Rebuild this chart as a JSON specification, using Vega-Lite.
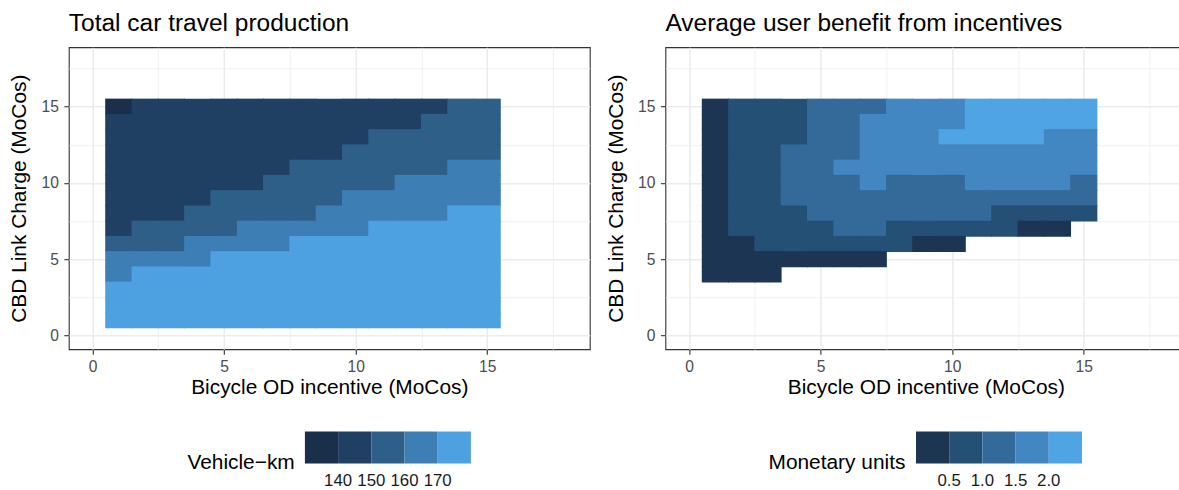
{
  "$schema": "https://vega.github.io/schema/vega-lite/v6.json",
  "padding": {"left": 7.8, "top": 9.2, "right": 0, "bottom": 0},
  "background": "white",
  "config": {
    "font": "Liberation Sans",
    "view": {"stroke": "#333333", "strokeWidth": 1.1},
    "axis": {
      "domain": false,
      "labelFont": "Liberation Sans",
      "labelFontSize": 15.6,
      "labelColor": "#4d4d4d",
      "tickColor": "#333333",
      "tickSize": 5,
      "tickWidth": 1.1,
      "labelPadding": 5,
      "titleFont": "Liberation Sans",
      "titleFontSize": 20.9,
      "titleFontWeight": "normal",
      "titleColor": "#000000",
      "titlePadding": 2,
      "gridColor": "#ebebeb"
    },
    "axisY": {"titlePadding": 11, "labelPadding": 5.5},
    "legend": {
      "type": "gradient",
      "direction": "horizontal",
      "orient": "none",
      "padding": 0,
      "gradientLength": 166,
      "gradientThickness": 32,
      "gradientStrokeWidth": 0,
      "titleOrient": "left",
      "titleAnchor": "end",
      "titleBaseline": "middle",
      "titlePadding": 9.5,
      "titleFont": "Liberation Sans",
      "titleFontSize": 20.9,
      "titleFontWeight": "normal",
      "titleColor": "#000000",
      "labelFont": "Liberation Sans",
      "labelFontSize": 16.8,
      "labelColor": "#1a1a1a"
    }
  },
  "datasets": {
    "L": [
      {"x":1,"y":15,"v":135},{"x":2,"y":15,"v":145},{"x":3,"y":15,"v":145},{"x":4,"y":15,"v":145},{"x":5,"y":15,"v":145},{"x":6,"y":15,"v":145},{"x":7,"y":15,"v":145},{"x":8,"y":15,"v":145},{"x":9,"y":15,"v":145},{"x":10,"y":15,"v":145},{"x":11,"y":15,"v":145},{"x":12,"y":15,"v":145},{"x":13,"y":15,"v":145},{"x":14,"y":15,"v":155},{"x":15,"y":15,"v":155},
      {"x":1,"y":14,"v":145},{"x":2,"y":14,"v":145},{"x":3,"y":14,"v":145},{"x":4,"y":14,"v":145},{"x":5,"y":14,"v":145},{"x":6,"y":14,"v":145},{"x":7,"y":14,"v":145},{"x":8,"y":14,"v":145},{"x":9,"y":14,"v":145},{"x":10,"y":14,"v":145},{"x":11,"y":14,"v":145},{"x":12,"y":14,"v":145},{"x":13,"y":14,"v":155},{"x":14,"y":14,"v":155},{"x":15,"y":14,"v":155},
      {"x":1,"y":13,"v":145},{"x":2,"y":13,"v":145},{"x":3,"y":13,"v":145},{"x":4,"y":13,"v":145},{"x":5,"y":13,"v":145},{"x":6,"y":13,"v":145},{"x":7,"y":13,"v":145},{"x":8,"y":13,"v":145},{"x":9,"y":13,"v":145},{"x":10,"y":13,"v":145},{"x":11,"y":13,"v":155},{"x":12,"y":13,"v":155},{"x":13,"y":13,"v":155},{"x":14,"y":13,"v":155},{"x":15,"y":13,"v":155},
      {"x":1,"y":12,"v":145},{"x":2,"y":12,"v":145},{"x":3,"y":12,"v":145},{"x":4,"y":12,"v":145},{"x":5,"y":12,"v":145},{"x":6,"y":12,"v":145},{"x":7,"y":12,"v":145},{"x":8,"y":12,"v":145},{"x":9,"y":12,"v":145},{"x":10,"y":12,"v":155},{"x":11,"y":12,"v":155},{"x":12,"y":12,"v":155},{"x":13,"y":12,"v":155},{"x":14,"y":12,"v":155},{"x":15,"y":12,"v":155},
      {"x":1,"y":11,"v":145},{"x":2,"y":11,"v":145},{"x":3,"y":11,"v":145},{"x":4,"y":11,"v":145},{"x":5,"y":11,"v":145},{"x":6,"y":11,"v":145},{"x":7,"y":11,"v":145},{"x":8,"y":11,"v":155},{"x":9,"y":11,"v":155},{"x":10,"y":11,"v":155},{"x":11,"y":11,"v":155},{"x":12,"y":11,"v":155},{"x":13,"y":11,"v":155},{"x":14,"y":11,"v":165},{"x":15,"y":11,"v":165},
      {"x":1,"y":10,"v":145},{"x":2,"y":10,"v":145},{"x":3,"y":10,"v":145},{"x":4,"y":10,"v":145},{"x":5,"y":10,"v":145},{"x":6,"y":10,"v":145},{"x":7,"y":10,"v":155},{"x":8,"y":10,"v":155},{"x":9,"y":10,"v":155},{"x":10,"y":10,"v":155},{"x":11,"y":10,"v":155},{"x":12,"y":10,"v":165},{"x":13,"y":10,"v":165},{"x":14,"y":10,"v":165},{"x":15,"y":10,"v":165},
      {"x":1,"y":9,"v":145},{"x":2,"y":9,"v":145},{"x":3,"y":9,"v":145},{"x":4,"y":9,"v":145},{"x":5,"y":9,"v":155},{"x":6,"y":9,"v":155},{"x":7,"y":9,"v":155},{"x":8,"y":9,"v":155},{"x":9,"y":9,"v":155},{"x":10,"y":9,"v":165},{"x":11,"y":9,"v":165},{"x":12,"y":9,"v":165},{"x":13,"y":9,"v":165},{"x":14,"y":9,"v":165},{"x":15,"y":9,"v":165},
      {"x":1,"y":8,"v":145},{"x":2,"y":8,"v":145},{"x":3,"y":8,"v":145},{"x":4,"y":8,"v":155},{"x":5,"y":8,"v":155},{"x":6,"y":8,"v":155},{"x":7,"y":8,"v":155},{"x":8,"y":8,"v":155},{"x":9,"y":8,"v":165},{"x":10,"y":8,"v":165},{"x":11,"y":8,"v":165},{"x":12,"y":8,"v":165},{"x":13,"y":8,"v":165},{"x":14,"y":8,"v":175},{"x":15,"y":8,"v":175},
      {"x":1,"y":7,"v":145},{"x":2,"y":7,"v":155},{"x":3,"y":7,"v":155},{"x":4,"y":7,"v":155},{"x":5,"y":7,"v":155},{"x":6,"y":7,"v":165},{"x":7,"y":7,"v":165},{"x":8,"y":7,"v":165},{"x":9,"y":7,"v":165},{"x":10,"y":7,"v":165},{"x":11,"y":7,"v":175},{"x":12,"y":7,"v":175},{"x":13,"y":7,"v":175},{"x":14,"y":7,"v":175},{"x":15,"y":7,"v":175},
      {"x":1,"y":6,"v":155},{"x":2,"y":6,"v":155},{"x":3,"y":6,"v":155},{"x":4,"y":6,"v":165},{"x":5,"y":6,"v":165},{"x":6,"y":6,"v":165},{"x":7,"y":6,"v":165},{"x":8,"y":6,"v":175},{"x":9,"y":6,"v":175},{"x":10,"y":6,"v":175},{"x":11,"y":6,"v":175},{"x":12,"y":6,"v":175},{"x":13,"y":6,"v":175},{"x":14,"y":6,"v":175},{"x":15,"y":6,"v":175},
      {"x":1,"y":5,"v":165},{"x":2,"y":5,"v":165},{"x":3,"y":5,"v":165},{"x":4,"y":5,"v":165},{"x":5,"y":5,"v":175},{"x":6,"y":5,"v":175},{"x":7,"y":5,"v":175},{"x":8,"y":5,"v":175},{"x":9,"y":5,"v":175},{"x":10,"y":5,"v":175},{"x":11,"y":5,"v":175},{"x":12,"y":5,"v":175},{"x":13,"y":5,"v":175},{"x":14,"y":5,"v":175},{"x":15,"y":5,"v":175},
      {"x":1,"y":4,"v":165},{"x":2,"y":4,"v":175},{"x":3,"y":4,"v":175},{"x":4,"y":4,"v":175},{"x":5,"y":4,"v":175},{"x":6,"y":4,"v":175},{"x":7,"y":4,"v":175},{"x":8,"y":4,"v":175},{"x":9,"y":4,"v":175},{"x":10,"y":4,"v":175},{"x":11,"y":4,"v":175},{"x":12,"y":4,"v":175},{"x":13,"y":4,"v":175},{"x":14,"y":4,"v":175},{"x":15,"y":4,"v":175},
      {"x":1,"y":3,"v":175},{"x":2,"y":3,"v":175},{"x":3,"y":3,"v":175},{"x":4,"y":3,"v":175},{"x":5,"y":3,"v":175},{"x":6,"y":3,"v":175},{"x":7,"y":3,"v":175},{"x":8,"y":3,"v":175},{"x":9,"y":3,"v":175},{"x":10,"y":3,"v":175},{"x":11,"y":3,"v":175},{"x":12,"y":3,"v":175},{"x":13,"y":3,"v":175},{"x":14,"y":3,"v":175},{"x":15,"y":3,"v":175},
      {"x":1,"y":2,"v":175},{"x":2,"y":2,"v":175},{"x":3,"y":2,"v":175},{"x":4,"y":2,"v":175},{"x":5,"y":2,"v":175},{"x":6,"y":2,"v":175},{"x":7,"y":2,"v":175},{"x":8,"y":2,"v":175},{"x":9,"y":2,"v":175},{"x":10,"y":2,"v":175},{"x":11,"y":2,"v":175},{"x":12,"y":2,"v":175},{"x":13,"y":2,"v":175},{"x":14,"y":2,"v":175},{"x":15,"y":2,"v":175},
      {"x":1,"y":1,"v":175},{"x":2,"y":1,"v":175},{"x":3,"y":1,"v":175},{"x":4,"y":1,"v":175},{"x":5,"y":1,"v":175},{"x":6,"y":1,"v":175},{"x":7,"y":1,"v":175},{"x":8,"y":1,"v":175},{"x":9,"y":1,"v":175},{"x":10,"y":1,"v":175},{"x":11,"y":1,"v":175},{"x":12,"y":1,"v":175},{"x":13,"y":1,"v":175},{"x":14,"y":1,"v":175},{"x":15,"y":1,"v":175}
    ],
    "R": [
      {"x":1,"y":15,"v":0.3},{"x":2,"y":15,"v":0.75},{"x":3,"y":15,"v":0.75},{"x":4,"y":15,"v":0.75},{"x":5,"y":15,"v":1.25},{"x":6,"y":15,"v":1.25},{"x":7,"y":15,"v":1.25},{"x":8,"y":15,"v":1.75},{"x":9,"y":15,"v":1.75},{"x":10,"y":15,"v":1.75},{"x":11,"y":15,"v":2.25},{"x":12,"y":15,"v":2.25},{"x":13,"y":15,"v":2.25},{"x":14,"y":15,"v":2.25},{"x":15,"y":15,"v":2.25},
      {"x":1,"y":14,"v":0.3},{"x":2,"y":14,"v":0.75},{"x":3,"y":14,"v":0.75},{"x":4,"y":14,"v":0.75},{"x":5,"y":14,"v":1.25},{"x":6,"y":14,"v":1.25},{"x":7,"y":14,"v":1.75},{"x":8,"y":14,"v":1.75},{"x":9,"y":14,"v":1.75},{"x":10,"y":14,"v":1.75},{"x":11,"y":14,"v":2.25},{"x":12,"y":14,"v":2.25},{"x":13,"y":14,"v":2.25},{"x":14,"y":14,"v":2.25},{"x":15,"y":14,"v":2.25},
      {"x":1,"y":13,"v":0.3},{"x":2,"y":13,"v":0.75},{"x":3,"y":13,"v":0.75},{"x":4,"y":13,"v":0.75},{"x":5,"y":13,"v":1.25},{"x":6,"y":13,"v":1.25},{"x":7,"y":13,"v":1.75},{"x":8,"y":13,"v":1.75},{"x":9,"y":13,"v":1.75},{"x":10,"y":13,"v":2.25},{"x":11,"y":13,"v":2.25},{"x":12,"y":13,"v":2.25},{"x":13,"y":13,"v":2.25},{"x":14,"y":13,"v":1.75},{"x":15,"y":13,"v":1.75},
      {"x":1,"y":12,"v":0.3},{"x":2,"y":12,"v":0.75},{"x":3,"y":12,"v":0.75},{"x":4,"y":12,"v":1.25},{"x":5,"y":12,"v":1.25},{"x":6,"y":12,"v":1.25},{"x":7,"y":12,"v":1.75},{"x":8,"y":12,"v":1.75},{"x":9,"y":12,"v":1.75},{"x":10,"y":12,"v":1.75},{"x":11,"y":12,"v":1.75},{"x":12,"y":12,"v":1.75},{"x":13,"y":12,"v":1.75},{"x":14,"y":12,"v":1.75},{"x":15,"y":12,"v":1.75},
      {"x":1,"y":11,"v":0.3},{"x":2,"y":11,"v":0.75},{"x":3,"y":11,"v":0.75},{"x":4,"y":11,"v":1.25},{"x":5,"y":11,"v":1.25},{"x":6,"y":11,"v":1.75},{"x":7,"y":11,"v":1.75},{"x":8,"y":11,"v":1.75},{"x":9,"y":11,"v":1.75},{"x":10,"y":11,"v":1.75},{"x":11,"y":11,"v":1.75},{"x":12,"y":11,"v":1.75},{"x":13,"y":11,"v":1.75},{"x":14,"y":11,"v":1.75},{"x":15,"y":11,"v":1.75},
      {"x":1,"y":10,"v":0.3},{"x":2,"y":10,"v":0.75},{"x":3,"y":10,"v":0.75},{"x":4,"y":10,"v":1.25},{"x":5,"y":10,"v":1.25},{"x":6,"y":10,"v":1.25},{"x":7,"y":10,"v":1.75},{"x":8,"y":10,"v":1.25},{"x":9,"y":10,"v":1.25},{"x":10,"y":10,"v":1.25},{"x":11,"y":10,"v":1.75},{"x":12,"y":10,"v":1.75},{"x":13,"y":10,"v":1.75},{"x":14,"y":10,"v":1.75},{"x":15,"y":10,"v":1.25},
      {"x":1,"y":9,"v":0.3},{"x":2,"y":9,"v":0.75},{"x":3,"y":9,"v":0.75},{"x":4,"y":9,"v":1.25},{"x":5,"y":9,"v":1.25},{"x":6,"y":9,"v":1.25},{"x":7,"y":9,"v":1.25},{"x":8,"y":9,"v":1.25},{"x":9,"y":9,"v":1.25},{"x":10,"y":9,"v":1.25},{"x":11,"y":9,"v":1.25},{"x":12,"y":9,"v":1.25},{"x":13,"y":9,"v":1.25},{"x":14,"y":9,"v":1.25},{"x":15,"y":9,"v":1.25},
      {"x":1,"y":8,"v":0.3},{"x":2,"y":8,"v":0.75},{"x":3,"y":8,"v":0.75},{"x":4,"y":8,"v":0.75},{"x":5,"y":8,"v":1.25},{"x":6,"y":8,"v":1.25},{"x":7,"y":8,"v":1.25},{"x":8,"y":8,"v":1.25},{"x":9,"y":8,"v":1.25},{"x":10,"y":8,"v":1.25},{"x":11,"y":8,"v":1.25},{"x":12,"y":8,"v":0.75},{"x":13,"y":8,"v":0.75},{"x":14,"y":8,"v":0.75},{"x":15,"y":8,"v":0.75},
      {"x":1,"y":7,"v":0.3},{"x":2,"y":7,"v":0.75},{"x":3,"y":7,"v":0.75},{"x":4,"y":7,"v":0.75},{"x":5,"y":7,"v":0.75},{"x":6,"y":7,"v":1.25},{"x":7,"y":7,"v":1.25},{"x":8,"y":7,"v":0.75},{"x":9,"y":7,"v":0.75},{"x":10,"y":7,"v":0.75},{"x":11,"y":7,"v":0.75},{"x":12,"y":7,"v":0.75},{"x":13,"y":7,"v":0.3},{"x":14,"y":7,"v":0.3},
      {"x":1,"y":6,"v":0.3},{"x":2,"y":6,"v":0.3},{"x":3,"y":6,"v":0.75},{"x":4,"y":6,"v":0.75},{"x":5,"y":6,"v":0.75},{"x":6,"y":6,"v":0.75},{"x":7,"y":6,"v":0.75},{"x":8,"y":6,"v":0.75},{"x":9,"y":6,"v":0.3},{"x":10,"y":6,"v":0.3},
      {"x":1,"y":5,"v":0.3},{"x":2,"y":5,"v":0.3},{"x":3,"y":5,"v":0.3},{"x":4,"y":5,"v":0.3},{"x":5,"y":5,"v":0.3},{"x":6,"y":5,"v":0.3},{"x":7,"y":5,"v":0.3},
      {"x":1,"y":4,"v":0.3},{"x":2,"y":4,"v":0.3},{"x":3,"y":4,"v":0.3}
    ]
  },
  "spacing": 13.6,
  "resolve": {"scale": {"color": "independent"}, "legend": {"color": "independent"}},
  "hconcat": [
    {
      "width": 521,
      "height": 302,
      "title": {"text": "Total car travel production", "anchor": "start", "frame": "group", "font": "Liberation Sans", "fontSize": 24.5, "fontWeight": "normal", "color": "#000000", "offset": 11},
      "data": {"name": "L"},
      "mark": {"type": "rect", "width": 27.2, "height": 16.1, "opacity": 1},
      "encoding": {
        "x": {
          "field": "x", "type": "quantitative",
          "scale": {"domain": [-0.9, 18.9], "nice": false, "zero": false},
          "axis": {
            "title": "Bicycle OD incentive (MoCos)",
            "values": [0, 2.5, 5, 7.5, 10, 12.5, 15, 17.5],
            "labelExpr": "datum.value % 5 === 0 ? datum.label : ''",
            "tickOpacity": {"condition": {"test": "datum.value % 5 === 0", "value": 1}, "value": 0},
            "gridWidth": {"condition": {"test": "datum.value % 5 === 0", "value": 1.5}, "value": 0.75}
          }
        },
        "y": {
          "field": "y", "type": "quantitative",
          "scale": {"domain": [-0.9, 18.9], "nice": false, "zero": false},
          "axis": {
            "title": "CBD Link Charge (MoCos)",
            "values": [0, 2.5, 5, 7.5, 10, 12.5, 15, 17.5],
            "labelExpr": "datum.value % 5 === 0 ? datum.label : ''",
            "tickOpacity": {"condition": {"test": "datum.value % 5 === 0", "value": 1}, "value": 0},
            "gridWidth": {"condition": {"test": "datum.value % 5 === 0", "value": 1.5}, "value": 0.75}
          }
        },
        "color": {
          "field": "v", "type": "quantitative",
          "scale": {"type": "threshold", "domain": [140, 150, 160, 170], "range": ["#192f4a", "#1f4063", "#2e5f88", "#3d7eb5", "#4da1e0"]},
          "legend": {"title": "Vehicle−km", "legendX": 118.6, "legendY": 384.3, "labelOffset": 9.8}
        }
      }
    },
    {
      "width": 521,
      "height": 302,
      "title": {"text": "Average user benefit from incentives", "anchor": "start", "frame": "group", "font": "Liberation Sans", "fontSize": 24.5, "fontWeight": "normal", "color": "#000000", "offset": 11},
      "data": {"name": "R"},
      "mark": {"type": "rect", "width": 27.2, "height": 16.1, "opacity": 1},
      "encoding": {
        "x": {
          "field": "x", "type": "quantitative",
          "scale": {"domain": [-0.9, 18.9], "nice": false, "zero": false},
          "axis": {
            "title": "Bicycle OD incentive (MoCos)",
            "values": [0, 2.5, 5, 7.5, 10, 12.5, 15, 17.5],
            "labelExpr": "datum.value % 5 === 0 ? datum.label : ''",
            "tickOpacity": {"condition": {"test": "datum.value % 5 === 0", "value": 1}, "value": 0},
            "gridWidth": {"condition": {"test": "datum.value % 5 === 0", "value": 1.5}, "value": 0.75}
          }
        },
        "y": {
          "field": "y", "type": "quantitative",
          "scale": {"domain": [-0.9, 18.9], "nice": false, "zero": false},
          "axis": {
            "title": "CBD Link Charge (MoCos)",
            "values": [0, 2.5, 5, 7.5, 10, 12.5, 15, 17.5],
            "labelExpr": "datum.value % 5 === 0 ? datum.label : ''",
            "tickOpacity": {"condition": {"test": "datum.value % 5 === 0", "value": 1}, "value": 0},
            "gridWidth": {"condition": {"test": "datum.value % 5 === 0", "value": 1.5}, "value": 0.75}
          }
        },
        "color": {
          "field": "v", "type": "quantitative",
          "scale": {"type": "threshold", "domain": [0.5, 1.0, 1.5, 2.0], "range": ["#1b3552", "#255075", "#346a99", "#4287c2", "#4fa4e3"]},
          "legend": {"title": "Monetary units", "format": ".1f", "legendX": 103.1, "legendY": 384.3, "labelOffset": 9.8}
        }
      }
    }
  ]
}
